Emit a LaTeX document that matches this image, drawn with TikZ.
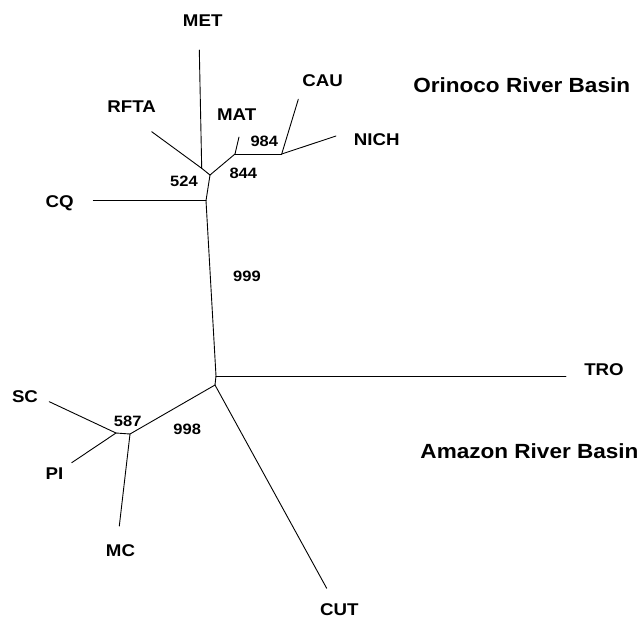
\documentclass[tikz,border=0pt]{standalone}
\usepackage{fontspec}
\setmainfont{Liberation Sans}[FakeStretch=1.1]
\usepackage{tikz}
\usetikzlibrary{positioning}

\begin{document}
\begin{tikzpicture}[x=1pt,y=-1pt,every node/.style={inner sep=0pt,font=\bfseries}]
    \tikzstyle{br}=[line width=0.9pt,line cap=round,line join=round];
    \tikzstyle{taxon}=[font=\fontsize{17}{17}\selectfont\bfseries];
    \tikzstyle{boot}=[font=\fontsize{15}{15}\selectfont\bfseries];
    \tikzstyle{basin}=[font=\fontsize{20.5}{20.5}\selectfont\bfseries];
    \useasboundingbox (0,0) rectangle (644,619);
    % --- internal nodes ---
    \coordinate (a) at (201.7,168.3);
    \coordinate (b) at (210,175);
    \coordinate (c) at (235,154);
    \coordinate (d) at (281.7,154);
    \coordinate (e) at (206,200.7);
    \coordinate (f) at (216,376);
    \coordinate (g) at (215,385);
    \coordinate (h) at (130,434);
    \coordinate (i) at (116,433);
    % --- branch tips ---
    \coordinate (tMET)  at (199.3,50);
    \coordinate (tRFTA) at (151.7,131.7);
    \coordinate (tMAT)  at (239,137);
    \coordinate (tCAU)  at (298.3,99.3);
    \coordinate (tNICH) at (336,136);
    \coordinate (tCQ)   at (93.3,200.7);
    \coordinate (tTRO)  at (566,376);
    \coordinate (tCUT)  at (326.7,588.3);
    \coordinate (tSC)   at (49.3,401.7);
    \coordinate (tPI)   at (71.7,462.7);
    \coordinate (tMC)   at (119.3,526);
    % --- Orinoco clade ---
    \draw[br] (tMET)--(a); \draw[br] (tRFTA)--(a); \draw[br] (a)--(b);
    \draw[br] (b)--(c); \draw[br] (c)--(tMAT); \draw[br] (c)--(d);
    \draw[br] (d)--(tCAU); \draw[br] (d)--(tNICH);
    \draw[br] (b)--(e); \draw[br] (e)--(tCQ);
    % --- backbone ---
    \draw[br] (e)--(f); \draw[br] (f)--(tTRO); \draw[br] (f)--(g);
    \draw[br] (g)--(tCUT);
    % --- Amazon clade ---
    \draw[br] (g)--(h); \draw[br] (h)--(tMC); \draw[br] (h)--(i);
    \draw[br] (i)--(tSC); \draw[br] (i)--(tPI);
    % --- taxa ---
    \node[taxon] (MET)  at (202.7,20.7)  {MET};
    \node[taxon] (RFTA) at (131.7,106.7) {RFTA};
    \node[taxon] (MAT)  at (236.7,115)   {MAT};
    \node[taxon] (CAU)  at (322.7,81)    {CAU};
    \node[taxon] (NICH) at (376.7,140)   {NICH};
    \node[taxon] (CQ)   at (59.7,203)    {CQ};
    \node[taxon] (TRO)  at (604,369.5)   {TRO};
    \node[taxon] (CUT)  at (339.3,609.7) {CUT};
    \node[taxon] (SC)   at (25,396.5)    {SC};
    \node[taxon] (PI)   at (54.5,473.7)  {PI};
    \node[taxon] (MC)   at (120.5,550.8) {MC};
    % --- bootstrap values ---
    \node[boot] (b984) at (264.3,141.7) {984};
    \node[boot] (b844) at (243.3,173.3) {844};
    \node[boot] (b524) at (184,181.7)   {524};
    \node[boot] (b999) at (247,276)     {999};
    \node[boot] (b587) at (127.7,421)   {587};
    \node[boot] (b998) at (187.2,429.3) {998};
    % --- basins ---
    \node[basin] (orinoco) at (521.7,85)    {Orinoco River Basin};
    \node[basin] (amazon)  at (529.5,450.7) {Amazon River Basin};
\end{tikzpicture}
\end{document}
